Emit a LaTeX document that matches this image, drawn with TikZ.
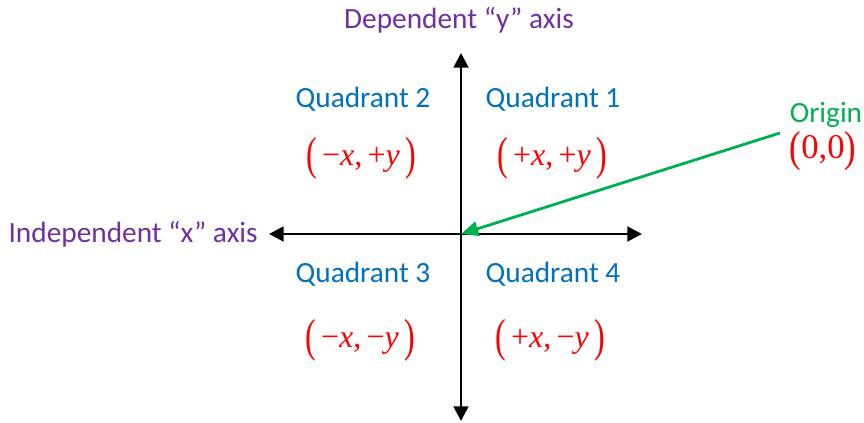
\documentclass[tikz,border=0pt]{standalone}
\usepackage{fontspec}
\setmainfont{Carlito}
\newfontfamily\mathserif{Liberation Serif}
\usetikzlibrary{arrows.meta}
\definecolor{axpurple}{RGB}{112,48,160}
\definecolor{qblue}{RGB}{0,112,192}
\definecolor{ogreen}{RGB}{0,176,80}
\definecolor{cred}{RGB}{255,0,0}
\newcommand{\lp}{\raisebox{-0.12em}{\scalebox{1}[1.45]{(}}}
\newcommand{\rp}{\raisebox{-0.12em}{\scalebox{1}[1.45]{)}}}
\newcommand{\pt}[2]{{\mathserif\lp\,#1\textit{x},\,#2\textit{y}\,\rp}}
\begin{document}
\begin{tikzpicture}[x=0.75pt,y=-0.75pt,
  axislbl/.style={text=axpurple,font=\fontsize{22}{26}\selectfont,inner sep=0pt},
  quad/.style={text=qblue,font=\fontsize{22}{26}\selectfont,inner sep=0pt},
  coord/.style={text=cred,font=\fontsize{24}{28}\selectfont,inner sep=0pt},
  axis/.style={line width=2.1pt,{Triangle[length=11pt,width=11pt]}-{Triangle[length=11pt,width=11pt]}}]
\useasboundingbox (0,0) rectangle (864,423);
\coordinate (O) at (461,234);
\coordinate (xl) at (269,234);
\coordinate (xr) at (642,234);
\coordinate (yt) at (461,53);
\coordinate (yb) at (461,421);
\draw[axis] (xl) -- (xr);
\draw[axis] (yt) -- (yb);
\node[axislbl] (ylab) at (459,20) {Dependent “y” axis};
\node[axislbl,anchor=east] (xlab) at (258,234) {Independent “x” axis};
\node[quad] (q2) at (363,99) {Quadrant 2};
\node[quad] (q1) at (553,99) {Quadrant 1};
\node[quad] (q3) at (363,274) {Quadrant 3};
\node[quad] (q4) at (553,274) {Quadrant 4};
\node[coord] (c2) at (361,158) {\pt{−}{+}};
\node[coord] (c1) at (552,158) {\pt{+}{+}};
\node[coord] (c3) at (360,340) {\pt{−}{−}};
\node[coord] (c4) at (550,340) {\pt{+}{−}};
\node[text=ogreen,font=\fontsize{22}{26}\selectfont,inner sep=0pt] (orig) at (826,115) {Origin};
\node[text=cred,font=\fontsize{26}{30}\selectfont,inner sep=0pt] (zero) at (823,151) {{\mathserif\raisebox{-0.08em}{\scalebox{1}[1.25]{(}}0,0\raisebox{-0.08em}{\scalebox{1}[1.25]{)}}}};
\coordinate (ostart) at (780,133);
\draw[ogreen,line width=2.1pt,-{Triangle[length=13pt,width=11pt]}] (ostart) -- (O);
\end{tikzpicture}
\end{document}
